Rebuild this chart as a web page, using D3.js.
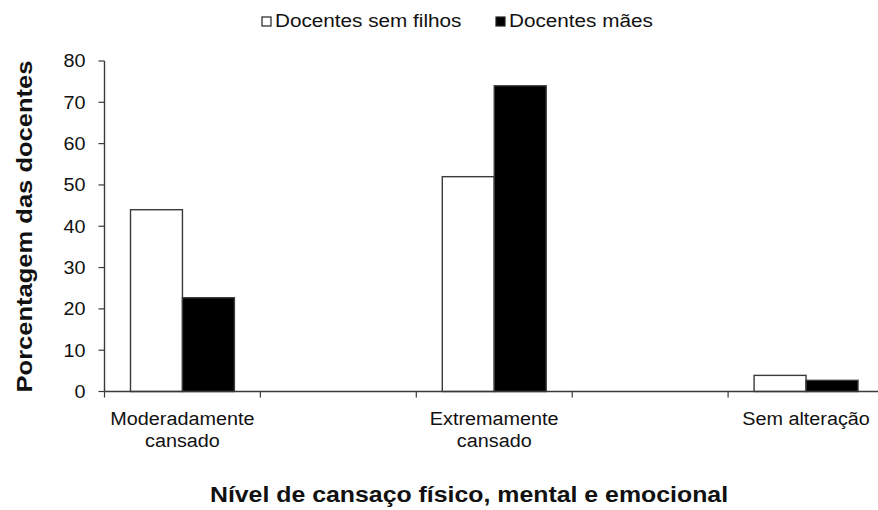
<!DOCTYPE html>
<html>
<head>
<meta charset="utf-8">
<script src="https://cdn.jsdelivr.net/npm/d3@7"></script>
<style>
  body { margin: 0; background: #fff; }
  svg text { font-family: "Liberation Sans", Arial, sans-serif; fill: #111; }
</style>
</head>
<body>
<svg id="chart" width="878" height="510"></svg>
<script>
// categories (blank ones are the empty slots between groups)
var categories = ["Moderadamente\ncansado", "", "Extremamente\ncansado", "", "Sem alteração"];
var series = ["Docentes sem filhos", "Docentes mães"];
var semFilhos = [44, null, 52, null, 3.9];
var maes = [22.7, null, 74, null, 2.7];
var yTicks = [0, 10, 20, 30, 40, 50, 60, 70, 80];

var svg = d3.select("#chart");

var x = d3.scaleBand()
  .domain(d3.range(categories.length))
  .range([104.5, 884])
  .padding(0);

var x1 = d3.scaleBand()
  .domain(series)
  .range([26, x.bandwidth() - 26])
  .padding(0);

var y = d3.scaleLinear()
  .domain([0, 80])
  .range([391.5, 61]);

var fills = { "Docentes sem filhos": "#fff", "Docentes mães": "#000" };

//stretch text a bit wider, like the original rendering
function stretch(sel, k) {
  sel.each(function() {
    var w = this.getComputedTextLength();
    d3.select(this).attr("textLength", w * k).attr("lengthAdjust", "spacingAndGlyphs");
  });
}

// bars
var rows = categories.map(function(c, i) {
  return { i: i, vals: [semFilhos[i], maes[i]] };
});

var groups = svg.append("g").selectAll("g")
  .data(rows)
  .enter().append("g")
  .attr("transform", function(d) { return "translate(" + x(d.i) + ",0)"; });

groups.selectAll("rect")
  .data(function(d) {
    return series.map(function(s, j) { return { s: s, v: d.vals[j] }; })
      .filter(function(e) { return e.v != null; });
  })
  .enter().append("rect")
  .attr("x", function(d) { return x1(d.s); })
  .attr("width", x1.bandwidth())
  .attr("y", function(d) { return y(d.v); })
  .attr("height", function(d) { return y(0) - y(d.v); })
  .attr("fill", function(d) { return fills[d.s]; })
  .attr("stroke", "#3a3a3a")
  .attr("stroke-width", 1.4);

// y axis
var yAxis = svg.append("g")
  .attr("transform", "translate(104.5,0)")
  .call(d3.axisLeft(y).tickValues(yTicks).tickSize(6).tickSizeOuter(0).tickPadding(13).offset(0));
yAxis.select(".domain").attr("stroke", "#3a3a3a").attr("stroke-width", 1.4);
yAxis.selectAll(".tick line").attr("stroke", "#3a3a3a").attr("stroke-width", 1.2);
yAxis.selectAll("text")
  .attr("fill", "#111")
  .style("font-size", "18px")
  .style("font-family", "Liberation Sans, Arial, sans-serif")
  .attr("dy", "0.35em")
  .call(stretch, 1.1);

// x axis: ticks sit between categories
var xEdge = d3.scaleLinear().domain([0, categories.length]).range(x.range());
var xAxis = svg.append("g")
  .attr("transform", "translate(0," + y(0) + ")")
  .call(d3.axisBottom(xEdge).tickValues(d3.range(categories.length + 1)).tickSize(6).tickSizeOuter(0).tickFormat("").offset(0));
xAxis.select(".domain").attr("stroke", "#3a3a3a").attr("stroke-width", 1.4);
xAxis.selectAll(".tick line").attr("stroke", "#3a3a3a").attr("stroke-width", 1.2);

// category labels
var catLabels = svg.append("g").selectAll("text")
  .data(categories.map(function(c, i) { return { c: c, i: i }; }).filter(function(d) { return d.c !== ""; }))
  .enter().append("text")
  .attr("text-anchor", "middle")
  .style("font-size", "18px")
  .attr("y", 425);

catLabels.selectAll("tspan")
  .data(function(d) {
    return d.c.split("\n").map(function(line) { return { line: line, i: d.i }; });
  })
  .enter().append("tspan")
  .attr("x", function(d) { return x(d.i) + x.bandwidth() / 2; })
  .attr("dy", function(d, k) { return k === 0 ? 0 : 22; })
  .text(function(d) { return d.line; })
  .call(stretch, 1.1);

// axis titles
svg.append("text")
  .attr("x", 469)
  .attr("y", 502)
  .attr("text-anchor", "middle")
  .style("font-size", "22px")
  .style("font-weight", "bold")
  .text("Nível de cansaço físico, mental e emocional")
  .call(stretch, 1.13);

svg.append("text")
  .attr("transform", "translate(32,226.5) rotate(-90)")
  .attr("text-anchor", "middle")
  .style("font-size", "22px")
  .style("font-weight", "bold")
  .text("Porcentagem das docentes")
  .call(stretch, 1.16);

// legend
var legendX = [262, 496];
var legend = svg.append("g").selectAll("g")
  .data(series)
  .enter().append("g")
  .attr("transform", function(d, i) { return "translate(" + legendX[i] + ",17)"; });

legend.append("rect")
  .attr("width", 9)
  .attr("height", 9)
  .attr("fill", function(d) { return fills[d]; })
  .attr("stroke", "#222")
  .attr("stroke-width", 1.2);

legend.append("text")
  .attr("x", 13)
  .attr("y", 10)
  .style("font-size", "18px")
  .text(function(d) { return d; })
  .call(stretch, 1.15);
</script>
</body>
</html>
